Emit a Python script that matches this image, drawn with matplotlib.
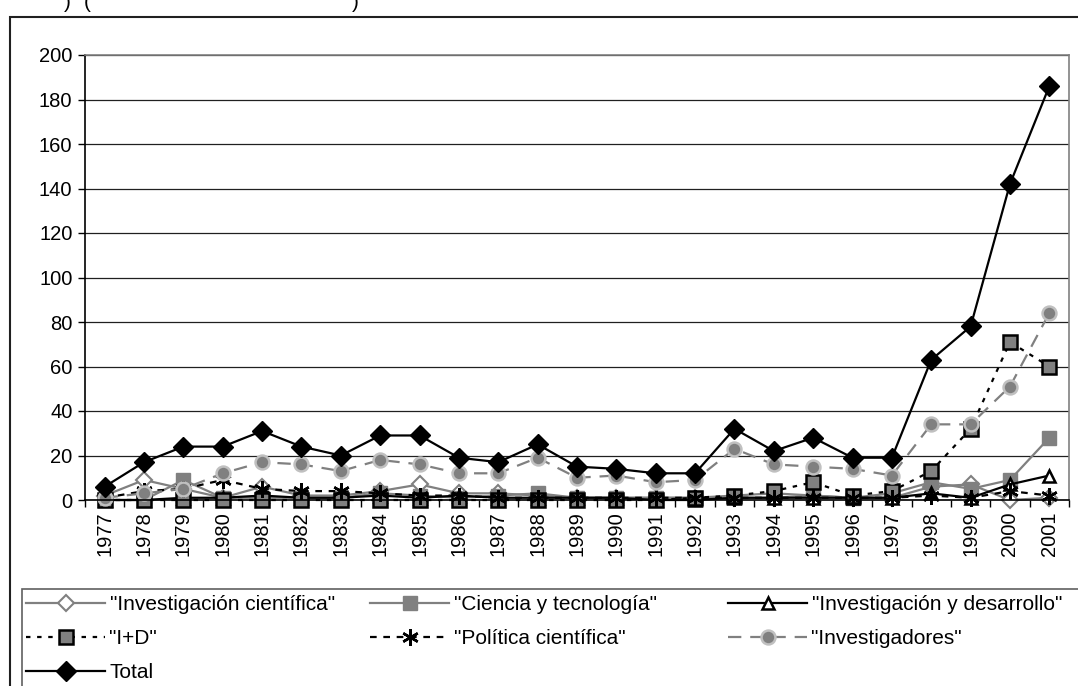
import matplotlib.pyplot as plt
import matplotlib.patches as mpatches
import numpy as np

plt.rcParams['font.family'] = ['Liberation Sans', 'DejaVu Sans']

years = [str(y) for y in range(1977, 2002)]

inv_cientifica = [2, 9, 5, 1, 6, 2, 2, 4, 7, 3, 3, 2, 1, 1, 1, 1, 1, 1, 2, 1, 1, 6, 7, 0, 1]
ciencia_tec = [0, 0, 9, 1, 1, 1, 1, 3, 2, 1, 2, 3, 1, 1, 1, 1, 2, 3, 2, 1, 3, 8, 5, 9, 28]
inv_desarrollo = [0, 0, 1, 1, 2, 1, 1, 2, 1, 2, 1, 1, 1, 1, 0, 0, 1, 1, 1, 1, 1, 3, 1, 7, 11]
i_mas_d = [0, 0, 0, 0, 0, 0, 0, 0, 0, 0, 0, 0, 0, 0, 0, 1, 2, 4, 8, 2, 4, 13, 32, 71, 60]
politica = [1, 4, 5, 9, 5, 4, 4, 3, 2, 2, 1, 1, 1, 1, 1, 1, 1, 1, 1, 1, 1, 2, 1, 4, 2]
investigadores = [1, 3, 5, 12, 17, 16, 13, 18, 16, 12, 12, 19, 10, 11, 8, 9, 23, 16, 15, 14, 11, 34, 34, 51, 84]
total = [6, 17, 24, 24, 31, 24, 20, 29, 29, 19, 17, 25, 15, 14, 12, 12, 32, 22, 28, 19, 19, 63, 78, 142, 186]

fig = plt.figure(figsize=(10.78, 6.86), dpi=100)
ax = fig.add_axes([85 / 1078, 1 - 500 / 686, 984 / 1078, 445 / 686])

x = np.arange(len(years))
lw = 1.6

h_ic, = ax.plot(x, inv_cientifica, color='#808080', lw=lw, marker='D', ms=8,
                mfc='white', mec='#808080', mew=1.5,
                label='"Investigación científica"')
h_ct, = ax.plot(x, ciencia_tec, color='#808080', lw=lw, marker='s', ms=10,
                mfc='#808080', mec='#808080',
                label='"Ciencia y tecnología"')
h_id, = ax.plot(x, inv_desarrollo, color='black', lw=lw, marker='^', ms=9,
                mfc='white', mec='black', mew=1.8,
                label='"Investigación y desarrollo"')
h_imd, = ax.plot(x, i_mas_d, color='black', lw=lw, ls=(0, (2, 3)), marker='s', ms=10,
                 mfc='#808080', mec='black', mew=1.8,
                 label='"I+D"')
h_pc, = ax.plot(x, politica, color='black', lw=lw, ls=(0, (3, 3)), marker=(6, 2, 0), ms=12,
                mec='black', mew=1.8,
                label='"Política científica"')
h_inv, = ax.plot(x, investigadores, color='#808080', lw=lw, ls=(0, (6, 4)), marker='o', ms=10,
                 mfc='#808080', mec='#c0c0c0', mew=1.8,
                 label='"Investigadores"')
h_tot, = ax.plot(x, total, color='black', lw=lw, marker='D', ms=10,
                 mfc='black', mec='black', label='Total')

for h in [h_ic, h_ct, h_id, h_imd, h_pc, h_inv, h_tot]:
    h.set_clip_on(False)

ax.set_xlim(-0.5, len(years) - 0.5)
ax.set_ylim(0, 200)
ax.set_yticks(range(0, 201, 20))
ax.yaxis.grid(True, color='#202020', lw=0.9)
ax.set_axisbelow(True)

ax.set_xticks(x)
ax.set_xticklabels(years, rotation=90, va='top', ha='center')
ax.set_xticks(np.arange(-0.5, len(years), 1), minor=True)
ax.tick_params(axis='x', which='major', length=0, pad=8, labelsize=14.5)
ax.tick_params(axis='x', which='minor', length=5, width=1, direction='out')
ax.tick_params(axis='y', length=5, width=1, direction='out', labelsize=14.5, pad=4)

for side in ['top', 'right']:
    ax.spines[side].set_color('#808080')
    ax.spines[side].set_linewidth(1.2)
for side in ['left', 'bottom']:
    ax.spines[side].set_color('black')
    ax.spines[side].set_linewidth(1.2)

# outer chart frame, cut off at the right and bottom
fig.patches.append(mpatches.Rectangle((10 / 1078, -0.1), 1.2, 1.1 - 17 / 686,
                                      transform=fig.transFigure, fill=False,
                                      ec='#202020', lw=1.5))
# legend frame
fig.patches.append(mpatches.Rectangle((22 / 1078, -0.1), 1.2, 0.1 + 1 - 589 / 686,
                                      transform=fig.transFigure, fill=False,
                                      ec='#606060', lw=1.2))

# three legend columns at fixed positions
columns = [([h_ic, h_imd, h_tot], 22), ([h_ct, h_pc], 366), ([h_id, h_inv], 724)]
for handles, left in columns:
    fig.legend(handles=handles, loc='upper left',
               bbox_to_anchor=(left / 1078, 1 - 591 / 686),
               frameon=False, fontsize=15, handlelength=3.8,
               handletextpad=0.2, labelspacing=0.72, borderpad=0.2,
               borderaxespad=0)

# parentheses of the caption line above the chart
for xp, s in [(64, ')'), (84, '('), (352, ')')]:
    fig.text(xp / 1078, 1 - 8 / 686, s, fontsize=15, va='baseline', ha='left')

fig.savefig('out.png', dpi=100)
